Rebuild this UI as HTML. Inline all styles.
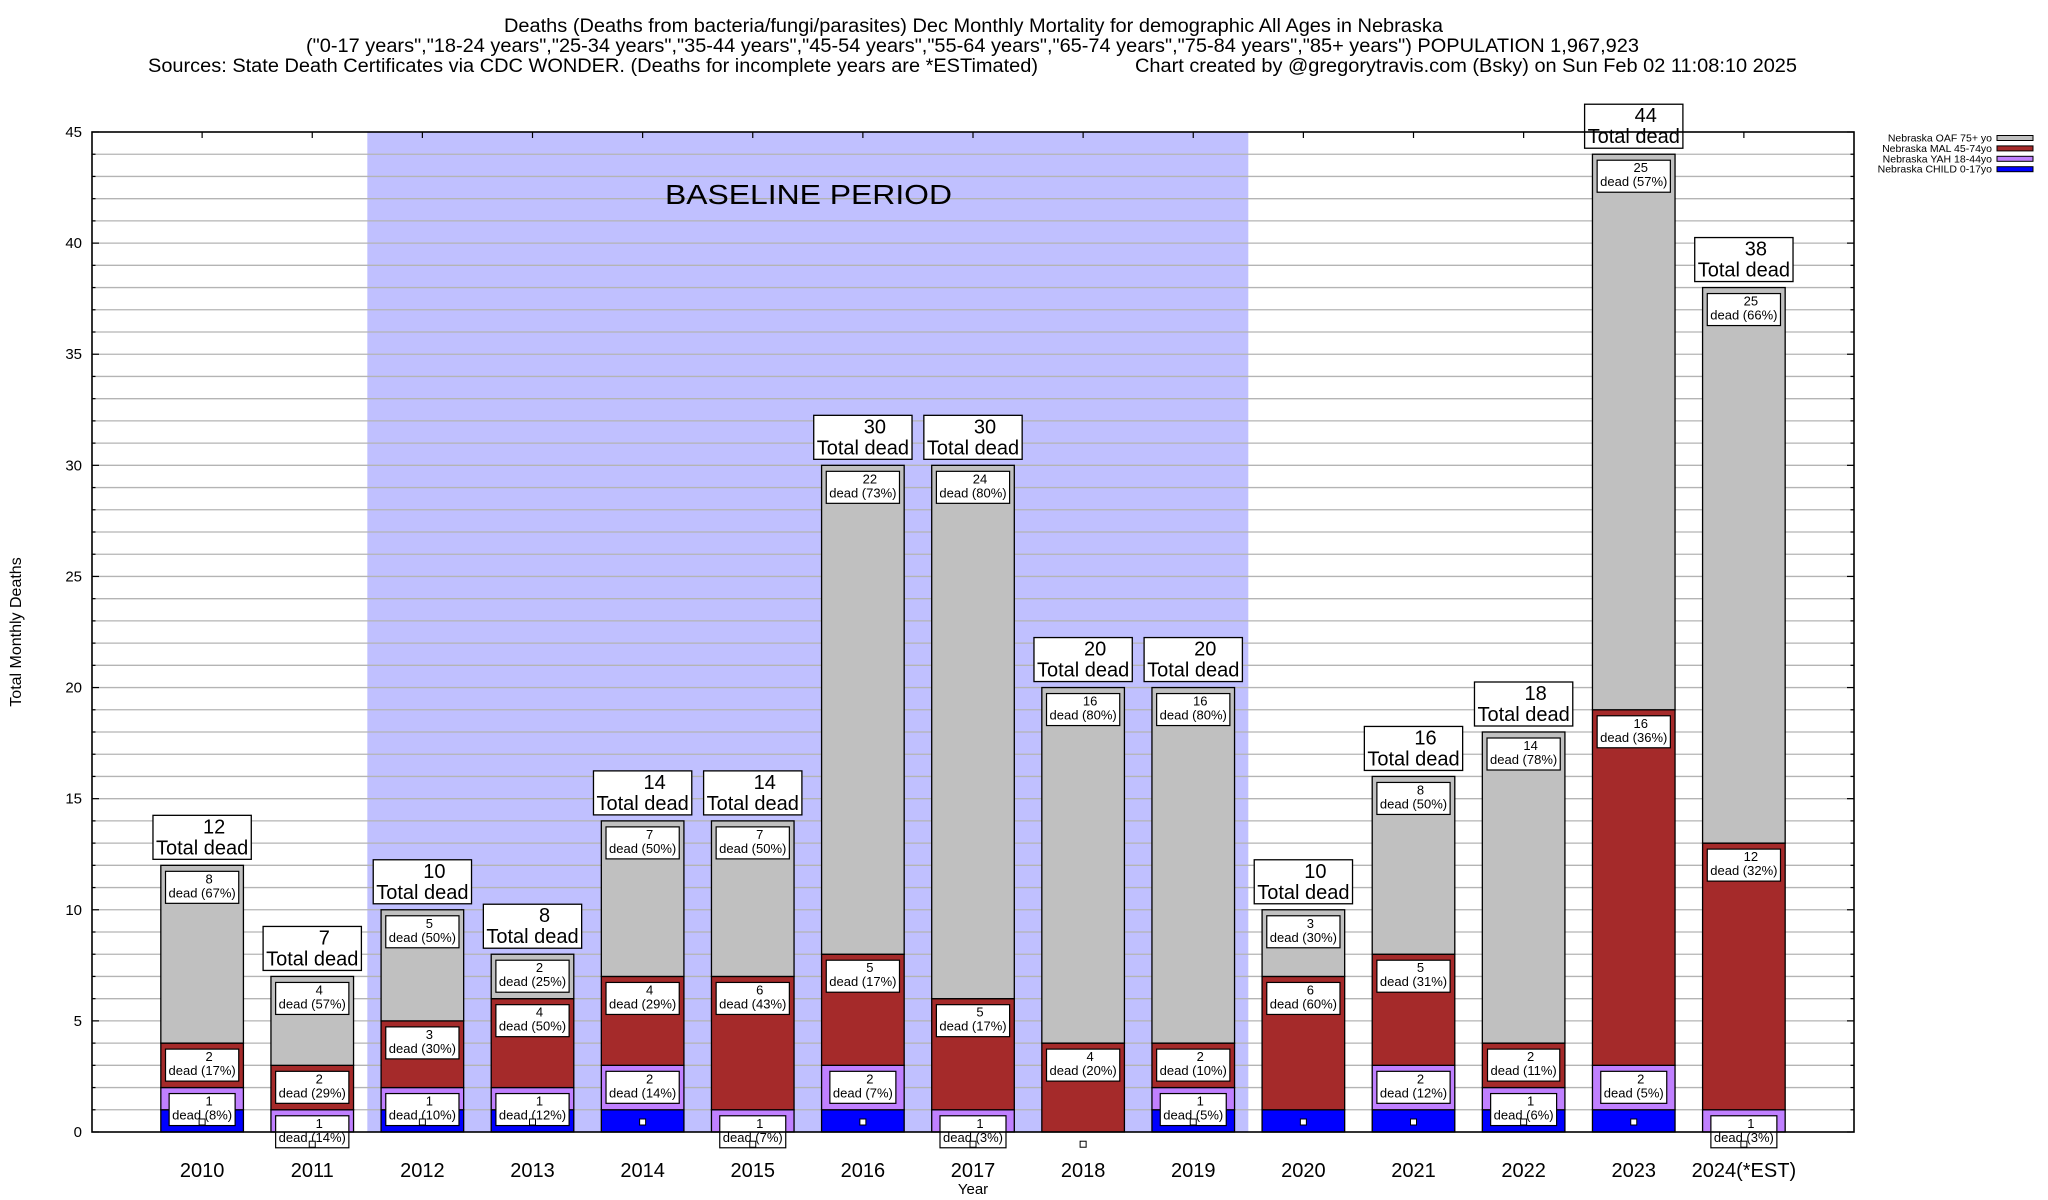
<!DOCTYPE html>
<html><head><meta charset="utf-8"><title>Nebraska Dec Monthly Mortality</title>
<style>
html,body{margin:0;padding:0;background:#fff;}
svg{display:block;font-family:"Liberation Sans",Arial,sans-serif;}
</style></head>
<body>
<svg id="chart" width="2048" height="1200" viewBox="0 0 2048 1200" xmlns="http://www.w3.org/2000/svg">
  <g fill="#000" font-size="19">
    <text x="504" y="32" textLength="939" lengthAdjust="spacingAndGlyphs">Deaths (Deaths from bacteria/fungi/parasites) Dec Monthly Mortality for demographic All Ages in Nebraska</text>
    <text x="306" y="52" textLength="1333" lengthAdjust="spacingAndGlyphs">("0-17 years","18-24 years","25-34 years","35-44 years","45-54 years","55-64 years","65-74 years","75-84 years","85+ years") POPULATION 1,967,923</text>
    <text x="148" y="72" textLength="890" lengthAdjust="spacingAndGlyphs">Sources: State Death Certificates via CDC WONDER. (Deaths for incomplete years are *ESTimated)</text>
    <text x="1135" y="72" textLength="662" lengthAdjust="spacingAndGlyphs">Chart created by @gregorytravis.com (Bsky) on Sun Feb 02 11:08:10 2025</text>
  </g>
  <g id="plot"></g>
  <text transform="translate(21,632) rotate(-90)" text-anchor="middle" font-size="16">Total Monthly Deaths</text>
  <text x="973" y="1194" text-anchor="middle" font-size="15">Year</text>
  <g id="legend" font-size="10.5"></g>
</svg>
<script>
const categories = ["2010","2011","2012","2013","2014","2015","2016","2017","2018","2019","2020","2021","2022","2023","2024(*EST)"];
const childVals = [1,0,1,1,1,0,1,0,0,1,1,1,1,1,0];
const yahVals   = [1,1,1,1,2,1,2,1,0,1,0,2,1,2,1];
const malVals   = [2,2,3,4,4,6,5,5,4,2,6,5,2,16,12];
const oafVals   = [8,4,5,2,7,7,22,24,16,16,3,8,14,25,25];
const yTicks = [0,5,10,15,20,25,30,35,40,45];
const baselineRange = [2.5, 10.5];
const seriesNames = ["Nebraska OAF 75+ yo","Nebraska MAL 45-74yo","Nebraska YAH 18-44yo","Nebraska CHILD 0-17yo"];

const NS = "http://www.w3.org/2000/svg";
const L = 92, R = 1854, T = 132, B = 1132;
const YMAX = 45, XMAX = categories.length + 1;
function xs(v){ return L + v * (R - L) / XMAX; }
function ys(v){ return B - v * (B - T) / YMAX; }
const plot = document.getElementById('plot');
function mk(tag, attrs, parent){
  const e = document.createElementNS(NS, tag);
  for (const k in attrs) e.setAttribute(k, attrs[k]);
  (parent || plot).appendChild(e);
  return e;
}
function pct(v, tot){
  const r = v / tot * 100;
  const f = Math.floor(r);
  const d = r - f;
  if (Math.abs(d - 0.5) < 1e-9) return (f % 2 === 0) ? f : f + 1;
  return Math.round(r);
}

// baseline shading
const shade = mk('rect', {x: xs(baselineRange[0]), y: T, width: xs(baselineRange[1]) - xs(baselineRange[0]), height: B - T, fill: '#c0c0ff'});



// gridlines and ticks
for (let v = 1; v < YMAX; v++) {
  const g = mk('line', {x1: L, x2: R, y1: ys(v), y2: ys(v), stroke: '#b4b4b4', 'stroke-width': 1.3});
  
  
}
for (let v = 0; v <= YMAX; v++) {
  const len = (v % 5 === 0) ? 7 : 3.5;
  mk('line', {x1: L, x2: L + len, y1: ys(v), y2: ys(v), stroke: '#000', 'stroke-width': 1.2});
  mk('line', {x1: R, x2: R - len, y1: ys(v), y2: ys(v), stroke: '#000', 'stroke-width': 1.2});
}
yTicks.forEach(function(t){
  const tl = mk('text', {x: 82, y: ys(t) + 5, 'text-anchor': 'end', 'font-size': 15});
  tl.textContent = t;
  
  
});
categories.forEach(function(c, i){
  const cx = xs(i + 1);
  mk('line', {x1: cx, x2: cx, y1: T, y2: T + 6, stroke: '#000', 'stroke-width': 1.2});
  const xl = mk('text', {x: cx, y: 1177, 'text-anchor': 'middle', 'font-size': 20});
  xl.textContent = c;
  
  
});

const BANNER = mk('text', {x: 665, y: 204, 'font-size': 28, textLength: 287, lengthAdjust: 'spacingAndGlyphs'});
BANNER.textContent = 'BASELINE PERIOD';



// bars
const colors = ['#0000ff', '#c080ff', '#a52a2a', '#c0c0c0'];
const segNames = ['child', 'yah', 'mal', 'oaf'];
const bw = 0.75 * (R - L) / XMAX;
const labelLayer = [];
categories.forEach(function(c, i){
  const vals = [childVals[i], yahVals[i], malVals[i], oafVals[i]];
  const tot = vals[0] + vals[1] + vals[2] + vals[3];
  const cx = xs(i + 1);
  let base = 0;
  vals.forEach(function(v, s){
    if (v > 0) {
      const r = mk('rect', {x: cx - bw / 2, y: ys(base + v), width: bw, height: ys(base) - ys(base + v), fill: colors[s], stroke: '#000', 'stroke-width': 1.3});
      
      
      if (s > 0) labelLayer.push({cx: cx, top: ys(base + v), v: v, p: pct(v, tot), name: segNames[s] + '-' + c});
    }
    base += v;
  });
  labelLayer.push({sq: true, cx: cx, y: ys(vals[0] - 0.55), name: c});
  labelLayer.push({total: true, cx: cx, top: ys(tot), v: tot, name: c});
});

labelLayer.forEach(function(o){
  if (o.sq) {
    const q = mk('rect', {x: o.cx - 3, y: o.y - 3, width: 6, height: 6, fill: '#fff', stroke: '#000', 'stroke-width': 1});
    
    
    return;
  }
  const g = mk('g', {});
  if (o.total) {
    
    
    const h = 44, y0 = o.top - 6 - h;
    const box = mk('rect', {y: y0, height: h, fill: '#fff', stroke: '#000', 'stroke-width': 1.3}, g);
    const t1 = mk('text', {x: o.cx + 12, y: y0 + 18, 'text-anchor': 'middle', 'font-size': 20}, g);
    t1.textContent = o.v;
    const t2 = mk('text', {x: o.cx, y: y0 + 39, 'text-anchor': 'middle', 'font-size': 20}, g);
    t2.textContent = 'Total dead';
    const w = t2.getComputedTextLength() + 6;
    box.setAttribute('x', o.cx - w / 2);
    box.setAttribute('width', w);
  } else {
    
    
    const h = 32, y0 = o.top + 6;
    const box = mk('rect', {y: y0, height: h, fill: '#fff', stroke: '#000', 'stroke-width': 1.2}, g);
    const t1 = mk('text', {x: o.cx + 7, y: y0 + 12, 'text-anchor': 'middle', 'font-size': 13}, g);
    t1.textContent = o.v;
    const t2 = mk('text', {x: o.cx, y: y0 + 26, 'text-anchor': 'middle', 'font-size': 13}, g);
    t2.textContent = 'dead (' + o.p + '%)';
    const w = t2.getComputedTextLength() + 6;
    box.setAttribute('x', o.cx - w / 2);
    box.setAttribute('width', w);
  }
});

// frame
const frame = mk('rect', {x: L, y: T, width: R - L, height: B - T, fill: 'none', stroke: '#000', 'stroke-width': 1.6});



// legend
const legend = document.getElementById('legend');
const legColors = ['#c0c0c0', '#a52a2a', '#c080ff', '#0000ff'];
seriesNames.forEach(function(n, k){
  const y = 138 + k * 10.4;
  const t = mk('text', {x: 1992, y: y + 3.5, 'text-anchor': 'end'}, legend);
  t.textContent = n;
  
  
  const s = mk('rect', {x: 1997, y: y - 2.5, width: 36, height: 5, fill: legColors[k], stroke: '#000', 'stroke-width': 1}, legend);
  
  
});
</script>
</body></html>
